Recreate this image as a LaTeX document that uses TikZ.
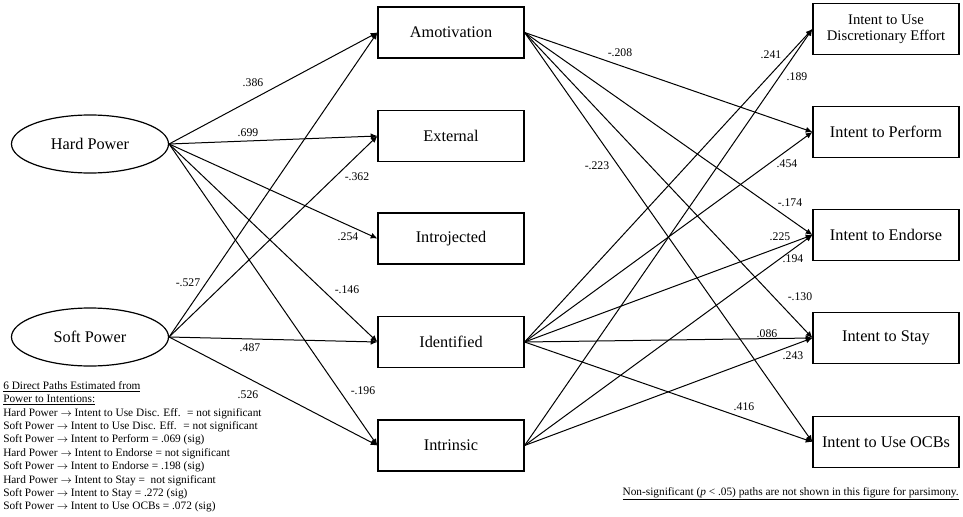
\documentclass[tikz,border=0pt]{standalone}
\usepackage{fontspec}
\setmainfont{Liberation Serif}
\usetikzlibrary{shapes.geometric,arrows.meta}

\tikzset{
	latent/.style={ellipse, draw, line width=0.9pt, minimum width=117.75pt, minimum height=43.5pt, inner sep=0pt, font=\fontsize{12.2}{14}\selectfont},
	factor/.style={rectangle, draw, line width=0.9pt, minimum width=109.5pt, minimum height=38.25pt, inner sep=0pt, font=\fontsize{12.2}{14}\selectfont},
	link/.style={draw, line width=0.75pt, -{Latex[length=5pt, width=4.5pt]}},
	coef/.style={inner sep=0pt, font=\fontsize{8.8}{10}\selectfont}
}

\begin{document}
\begin{tikzpicture}[x=0.75pt, y=-0.75pt]
			%%%%% START %%%%%
			\useasboundingbox (0, 0) rectangle (963, 517);
			
			\node[latent] (hard) at (90, 144) {Hard Power};
			\node[latent] (soft) at (90, 337) {Soft Power};
			
			\node[factor] (amo) at (451, 32.5) {Amotivation};
			\node[factor] (ext) at (451, 136) {External};
			\node[factor] (intro) at (451, 238.5) {Introjected};
			\node[factor] (ident) at (451, 342) {Identified};
			\node[factor] (intr) at (451, 445.5) {Intrinsic};
			
			\node[factor, font=\fontsize{11}{11.8}\selectfont, align=center] (disc) at (886, 29) {Intent to Use\\Discretionary Effort};
			\node[factor] (perf) at (886, 132) {Intent to Perform};
			\node[factor] (endo) at (886, 235) {Intent to Endorse};
			\node[factor] (stay) at (886, 338) {Intent to Stay};
			\node[factor] (ocb) at (886, 442) {Intent to Use OCBs};
			
			\draw[link] (hard.east) -- (amo.west);
			\draw[link] (hard.east) -- (ext.west);
			\draw[link] (hard.east) -- (intro.west);
			\draw[link] (hard.east) -- (ident.west);
			\draw[link] (hard.east) -- (intr.west);
			\draw[link] (soft.east) -- (amo.west);
			\draw[link] (soft.east) -- (ext.west);
			\draw[link] (soft.east) -- (ident.west);
			\draw[link] (soft.east) -- (intr.west);
			
			\draw[link] (amo.east) -- (perf.west);
			\draw[link] (amo.east) -- (endo.west);
			\draw[link] (amo.east) -- (stay.west);
			\draw[link] (amo.east) -- (ocb.west);
			\draw[link] (ident.east) -- (disc.west);
			\draw[link] (ident.east) -- (perf.west);
			\draw[link] (ident.east) -- (endo.west);
			\draw[link] (ident.east) -- (stay.west);
			\draw[link] (ident.east) -- (ocb.west);
			\draw[link] (intr.east) -- (disc.west);
			\draw[link] (intr.east) -- (endo.west);
			\draw[link] (intr.east) -- (stay.west);
			
			\node[coef] (c386) at (253, 83) {.386};
			\node[coef] (c699) at (248, 133) {.699};
			\node[coef] (c362) at (357, 177) {-.362};
			\node[coef] (c254) at (348, 237) {.254};
			\node[coef] (c527) at (188, 283) {-.527};
			\node[coef] (c146) at (347, 290) {-.146};
			\node[coef] (c487) at (250, 348) {.487};
			\node[coef] (c526) at (248, 395) {.526};
			\node[coef] (c196) at (363, 391) {-.196};
			
			\node[coef] (c208) at (620, 53) {-.208};
			\node[coef] (c223) at (597, 166) {-.223};
			\node[coef] (c241) at (771, 55) {.241};
			\node[coef] (c189) at (797, 77) {.189};
			\node[coef] (c454) at (787, 164) {.454};
			\node[coef] (c174) at (790, 203) {-.174};
			\node[coef] (c225) at (780, 237) {.225};
			\node[coef] (c194) at (793, 259) {.194};
			\node[coef] (c130) at (800, 297) {-.130};
			\node[coef] (c086) at (767, 334) {.086};
			\node[coef] (c243) at (793, 356) {.243};
			\node[coef] (c416) at (744, 407) {.416};
			
			\node[anchor=north west, inner sep=0pt, align=left, font=\fontsize{8.5}{10.05}\selectfont] (direct) at (3, 381) {%
				\underline{6 Direct Paths Estimated from}\\
				\underline{Power to Intentions:}\\
				Hard Power $\rightarrow$ Intent to Use Disc. Eff. \ = not significant\\
				Soft Power $\rightarrow$ Intent to Use Disc. Eff. \ = not significant\\
				Soft Power $\rightarrow$ Intent to Perform = .069 (sig)\\
				Hard Power $\rightarrow$ Intent to Endorse = not significant\\
				Soft Power $\rightarrow$ Intent to Endorse = .198 (sig)\\
				Hard Power $\rightarrow$ Intent to Stay = \ not significant\\
				Soft Power $\rightarrow$ Intent to Stay = .272 (sig)\\
				Soft Power $\rightarrow$ Intent to Use OCBs = .072 (sig)};
			
			\node[anchor=east, inner sep=0pt, font=\fontsize{8.5}{10.05}\selectfont] (note) at (959, 494) {\underline{Non-significant (\textit{p} < .05) paths are not shown in this figure for parsimony.}};
			%%%%% END %%%%%
\end{tikzpicture}
\end{document}
